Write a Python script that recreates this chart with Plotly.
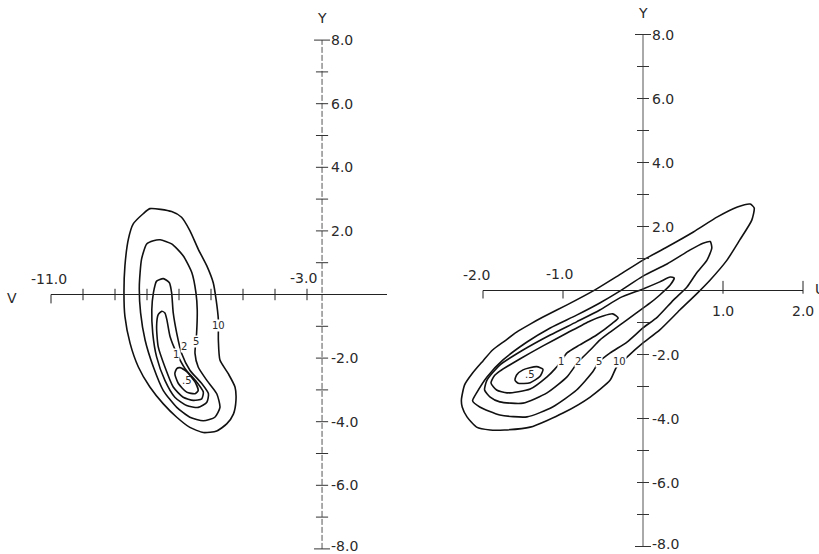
import plotly.graph_objects as go

# ---------------- data ----------------
# Left panel (V horizontal, Y vertical): contour lines, levels .5, 1, 2, 5, 10
L10_V = [-8.12, -7.91, -7.23, -6.92, -6.66, -6.40, -6.13, -5.93, -5.84, -5.77, -5.77, -5.72, -5.46, -5.25, -5.22, -5.30,
         -5.51, -5.82, -6.24, -6.66, -7.07, -7.49, -7.91, -8.27, -8.53, -8.69, -8.72, -8.69, -8.58, -8.43, -8.12]
L10_Y = [2.54, 2.70, 2.61, 2.43, 2.01, 1.43, 0.90, 0.37, -0.16, -0.79, -1.43, -2.06, -2.49, -2.91, -3.33, -3.76,
         -4.07, -4.29, -4.34, -4.18, -3.86, -3.44, -2.91, -2.28, -1.53, -0.69, 0.05, 0.90, 1.75, 2.22, 2.54]
L5_V = [-7.80, -8.01, -8.17, -8.24, -8.20, -8.06, -7.80, -7.49, -7.07, -6.66, -6.24, -5.88, -5.72, -5.82, -6.13, -6.40,
        -6.50, -6.45, -6.43, -6.47, -6.60, -6.87, -7.23, -7.59, -7.80]
L5_Y = [1.69, 1.59, 1.11, 0.26, -0.58, -1.43, -2.28, -3.02, -3.55, -3.86, -3.97, -3.86, -3.55, -3.12, -2.70, -2.28,
        -1.85, -1.22, -0.48, 0.05, 0.69, 1.22, 1.59, 1.72, 1.69]
L2_V = [-7.49, -7.70, -7.80, -7.85, -7.82, -7.70, -7.44, -7.13, -6.76, -6.40, -6.13, -6.08, -6.29, -6.66, -6.92, -7.07,
        -7.18, -7.23, -7.30, -7.49]
L2_Y = [0.50, 0.42, 0.05, -0.48, -1.22, -1.96, -2.70, -3.23, -3.49, -3.55, -3.39, -3.12, -2.80, -2.38, -1.85, -1.22,
        -0.58, 0.05, 0.37, 0.50]
L1_V = [-7.54, -7.65, -7.70, -7.65, -7.44, -7.18, -6.87, -6.55, -6.29, -6.24, -6.45, -6.81, -7.07, -7.28, -7.38, -7.44,
        -7.54]
L1_Y = [-0.53, -0.63, -1.01, -1.64, -2.28, -2.91, -3.23, -3.33, -3.28, -3.07, -2.75, -2.33, -1.85, -1.32, -0.79, -0.58,
        -0.53]
L05_V = [-7.07, -7.13, -7.02, -6.76, -6.50, -6.40, -6.50, -6.76, -6.97, -7.07]
L05_Y = [-2.33, -2.49, -2.80, -3.07, -3.12, -3.02, -2.75, -2.43, -2.30, -2.33]

# contour label positions (left panel)
L_LABELS = ["10", "5", "2", "1", ".5"]
L_LABEL_V = [-5.78, -6.47, -6.84, -7.09, -6.75]
L_LABEL_Y = [-0.98, -1.49, -1.65, -1.90, -2.70]

# Right panel (U horizontal, Y vertical)
R10_U = [-2.27, -2.23, -2.13, -2.00, -1.88, -1.73, -1.58, -1.41, -1.25, -0.95, -0.60, -0.30, 0.00, 0.30, 0.63, 0.93,
         1.18, 1.34, 1.39, 1.36, 1.21, 1.05, 0.84, 0.68, 0.46, 0.21, 0.00, -0.20, -0.33, -0.41, -0.66, -1.00, -1.41,
         -1.73, -1.91, -2.08, -2.20, -2.26, -2.27]
R10_Y = [-3.42, -2.95, -2.58, -2.20, -1.86, -1.58, -1.30, -1.05, -0.83, -0.45, 0.02, 0.48, 0.95, 1.36, 1.83, 2.30,
         2.61, 2.70, 2.58, 2.20, 1.58, 0.95, 0.33, -0.08, -0.61, -1.23, -1.64, -2.08, -2.39, -2.80, -3.33, -3.83, -4.27,
         -4.36, -4.36, -4.27, -3.95, -3.64, -3.42]
R5_U = [-2.13, -2.08, -1.95, -1.75, -1.45, -1.16, -0.83, -0.54, -0.29, 0.00, 0.30, 0.59, 0.75, 0.84, 0.86, 0.80, 0.67,
        0.55, 0.38, 0.18, 0.00, -0.20, -0.41, -0.55, -0.63, -0.83, -1.13, -1.45, -1.79, -2.04, -2.13]
R5_Y = [-3.45, -3.20, -2.70, -2.17, -1.61, -1.17, -0.77, -0.39, -0.02, 0.45, 0.83, 1.27, 1.48, 1.53, 1.33, 0.95, 0.55,
        0.11, -0.30, -0.83, -1.17, -1.61, -1.95, -2.23, -2.55, -3.11, -3.64, -3.95, -3.89, -3.64, -3.45]
R2_U = [-1.98, -1.95, -1.79, -1.50, -1.16, -0.83, -0.54, -0.29, 0.00, 0.21, 0.34, 0.39, 0.34, 0.21, 0.09, 0.00, -0.20,
        -0.41, -0.54, -0.66, -0.81, -0.95, -1.20, -1.50, -1.79, -1.91, -1.98]
R2_Y = [-3.11, -2.80, -2.33, -1.86, -1.39, -0.98, -0.61, -0.23, 0.05, 0.27, 0.42, 0.39, 0.17, -0.14, -0.39, -0.55,
        -0.92, -1.30, -1.55, -1.86, -2.23, -2.70, -3.20, -3.52, -3.48, -3.33, -3.11]
R1_U = [-1.90, -1.86, -1.79, -1.54, -1.25, -0.95, -0.66, -0.50, -0.38, -0.31, -0.38, -0.58, -0.79, -0.95, -1.03, -1.10,
        -1.20, -1.41, -1.70, -1.83, -1.90]
R1_Y = [-2.89, -2.67, -2.52, -2.14, -1.73, -1.33, -0.95, -0.80, -0.73, -0.86, -1.02, -1.39, -1.70, -1.95, -2.23, -2.45,
        -2.70, -3.08, -3.20, -3.11, -2.89]
R05_U = [-1.60, -1.56, -1.41, -1.29, -1.25, -1.33, -1.50, -1.58, -1.60]
R05_Y = [-2.80, -2.90, -2.88, -2.69, -2.46, -2.38, -2.48, -2.64, -2.80]

R_LABELS = ["10", "5", "2", "1", ".5"]
R_LABEL_U = [-0.29, -0.55, -0.81, -1.03, -1.41]
R_LABEL_Y = [-2.23, -2.23, -2.23, -2.23, -2.64]

# axes
V_TICKS = [-11, -10, -9, -8, -7, -6, -5, -4, -3]
V_AXIS_END = -0.5
V_YAXIS = -2.53          # position of the left Y axis on the V scale
U_TICKS = [-2, -1, 1, 2]
Y_TICKS = [-8, -7, -6, -5, -4, -3, -2, -1, 1, 2, 3, 4, 5, 6, 7, 8]
Y_LABEL_VALUES = [8, 6, 4, 2, -2, -4, -6, -8]
Y_LABELS = ["8.0", "6.0", "4.0", "2.0", "-2.0", "-4.0", "-6.0", "-8.0"]

# ---------------- styles ----------------
FONT = "DejaVu Sans"
TXT = "#2a2a2a"
CONTOUR = dict(color="#111111", width=1.6, shape="spline", smoothing=0.6)
AXIS = dict(color="#222222", width=1.2)
YAXIS_LEFT = dict(color="#555555", width=1.0, dash="6px,2px")
YAXIS_RIGHT = dict(color="#555555", width=1.0)

fig = go.Figure()


def add_line(xs, ys, line, xa="x", ya="y"):
    fig.add_trace(go.Scatter(x=xs, y=ys, mode="lines", line=line, xaxis=xa, yaxis=ya,
                             hoverinfo="skip", showlegend=False))


# ---- left panel ----
for xs, ys in [(L10_V, L10_Y), (L5_V, L5_Y), (L2_V, L2_Y), (L1_V, L1_Y), (L05_V, L05_Y)]:
    add_line(xs, ys, CONTOUR)

add_line([V_TICKS[0], V_AXIS_END], [0, 0], AXIS)
add_line([V_YAXIS, V_YAXIS], [Y_TICKS[0], Y_TICKS[-1]], YAXIS_LEFT)

tx, ty = [], []
for t in V_TICKS:
    lo, hi = (-0.28, 0.0) if t == V_TICKS[0] else (-0.18, 0.18)
    tx += [t, t, None]
    ty += [lo, hi, None]
add_line(tx, ty, dict(color="#222222", width=1.0))
tx, ty = [], []
for t in Y_TICKS:
    h = 0.25 if abs(t) == 8 else 0.19
    tx += [V_YAXIS - h, V_YAXIS + h, None]
    ty += [t, t, None]
add_line(tx, ty, dict(color="#333333", width=1.0))

# ---- right panel ----
for xs, ys in [(R10_U, R10_Y), (R5_U, R5_Y), (R2_U, R2_Y), (R1_U, R1_Y), (R05_U, R05_Y)]:
    add_line(xs, ys, CONTOUR, "x2", "y2")

add_line([U_TICKS[0], U_TICKS[-1]], [0, 0], AXIS, "x2", "y2")
add_line([0, 0], [Y_TICKS[0], Y_TICKS[-1]], YAXIS_RIGHT, "x2", "y2")
tx, ty = [], []
for t in U_TICKS:
    lo, hi = (-0.25, 0.0) if t < 0 else (-0.1, 0.3)
    tx += [t, t, None]
    ty += [lo, hi, None]
add_line(tx, ty, dict(color="#222222", width=1.0), "x2", "y2")
tx, ty = [], []
for t in Y_TICKS:
    h = 0.1 if abs(t) == 8 else 0.075
    tx += [-h, h, None]
    ty += [t, t, None]
add_line(tx, ty, dict(color="#333333", width=1.0), "x2", "y2")

# ---------------- text ----------------
ann = []


def text(s, x, y, xref, yref, size=14, xanchor="center", yanchor="middle", xshift=0, yshift=0, bg=None):
    d = dict(text=s, x=x, y=y, xref=xref, yref=yref, showarrow=False, xanchor=xanchor, yanchor=yanchor,
             xshift=xshift, yshift=yshift, font=dict(family=FONT, size=size, color=TXT))
    if bg:
        d.update(bgcolor=bg, borderpad=0)
    ann.append(d)


# Y axis labels
for v, s in zip(Y_LABEL_VALUES, Y_LABELS):
    ys = 3 if v == Y_LABEL_VALUES[-1] else 0
    text(s, V_YAXIS, v, "x", "y", xanchor="left", xshift=7, yshift=ys)
    text(s, 0, v, "x2", "y2", xanchor="left", xshift=7, yshift=ys)
text("Y", V_YAXIS, 8, "x", "y", yanchor="bottom", yshift=12)
text("Y", 0, 8, "x2", "y2", yanchor="bottom", yshift=12)

# horizontal axis labels
text("-11.0", V_TICKS[0], 0, "x", "y", yanchor="bottom", yshift=6, xshift=-2)
text("-3.0", V_TICKS[-1], 0, "x", "y", yanchor="bottom", yshift=7, xshift=-4)
text("V", V_TICKS[0], 0, "x", "y", xshift=-39, yshift=-3)
text("-2.0", -2, 0, "x2", "y2", yanchor="bottom", yshift=6, xshift=-7)
text("-1.0", -1, 0, "x2", "y2", yanchor="bottom", yshift=7, xshift=-4)
text("1.0", 1, 0, "x2", "y2", yanchor="top", yshift=-10)
text("2.0", 2, 0, "x2", "y2", yanchor="top", yshift=-10)
text("U", 2, 0, "x2", "y2", xanchor="left", xshift=10, yshift=2)

# contour labels
for s, x, y in zip(L_LABELS, L_LABEL_V, L_LABEL_Y):
    text(s, x, y, "x", "y", size=10, bg=None if s == ".5" else "white")
for s, x, y in zip(R_LABELS, R_LABEL_U, R_LABEL_Y):
    text(s, x, y, "x2", "y2", size=10, bg=None if s == ".5" else "white")

W, H = 819, 554
fig.update_layout(
    width=W, height=H, margin=dict(l=0, r=0, t=0, b=0),
    paper_bgcolor="white", plot_bgcolor="white", showlegend=False,
    annotations=ann,
    xaxis=dict(domain=[0, 1], range=[-403 / 32, (W - 403) / 32], visible=False, fixedrange=True),
    yaxis=dict(domain=[0, 1], range=[-(H - 294.5) / 31.8, 294.5 / 31.8], visible=False, fixedrange=True),
    xaxis2=dict(domain=[0, 1], range=[-643 / 80, (W - 643) / 80], visible=False, fixedrange=True,
                overlaying="x", anchor="y2"),
    yaxis2=dict(domain=[0, 1], range=[-(H - 290.5) / 32, 290.5 / 32], visible=False, fixedrange=True,
                overlaying="y", anchor="x2"),
)

fig.write_html("out.html", config={"displayModeBar": False},
               post_script="document.body.style.margin='0px'; document.body.style.overflow='hidden';")
